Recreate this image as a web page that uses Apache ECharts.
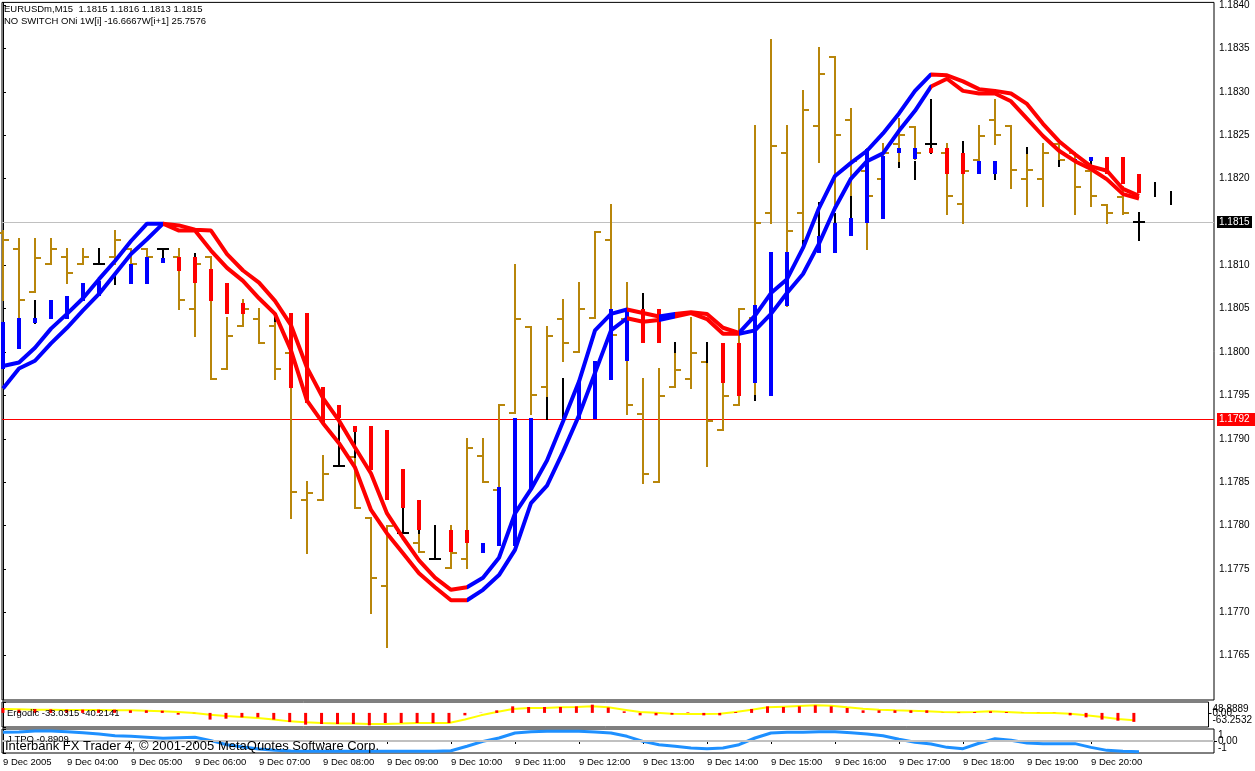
<!DOCTYPE html>
<html><head><meta charset="utf-8">
<script src="https://cdn.jsdelivr.net/npm/echarts@6/dist/echarts.min.js"></script>
<style>html,body{margin:0;padding:0;background:#fff}#c{width:1255px;height:771px}</style>
</head><body><div id="c"></div>
<script>
// ---- categories (15-minute bars, 9 Dec 2005) ----
const times = ["03:00","03:15","03:30","03:45","04:00","04:15","04:30","04:45","05:00","05:15","05:30","05:45",
"06:00","06:15","06:30","06:45","07:00","07:15","07:30","07:45","08:00","08:15","08:30","08:45",
"09:00","09:15","09:30","09:45","10:00","10:15","10:30","10:45","11:00","11:15","11:30","11:45",
"12:00","12:15","12:30","12:45","13:00","13:15","13:30","13:45","14:00","14:15","14:30","14:45",
"15:00","15:15","15:30","15:45","16:00","16:15","16:30","16:45","17:00","17:15","17:30","17:45",
"18:00","18:15","18:30","18:45","19:00","19:15","19:30","19:45","20:00","20:15","20:30","20:45",
"21:00","21:15"];
const timeTicks = [0,4,8,12,16,20,24,28,32,36,40,44,48,52,56,60,64,68];
const priceTicks = [1.1765,1.1770,1.1775,1.1780,1.1785,1.1790,1.1795,1.1800,1.1805,1.1810,1.1815,1.1820,1.1825,1.1830,1.1835,1.1840];
const bidPrice = 1.1815;
const levelPrice = 1.17923;

// ---- gold OHLC bars (null = no gold bar) ----
const goldOpen = [1.18137,1.18119,1.18069,1.18102,1.18110,1.18102,null,1.18110,1.18119,1.18119,
null,1.18110,1.18050,1.18110,1.17980,1.18030,1.18038,1.18030,1.17999,1.17830,
1.17830,null,1.17879,1.17809,1.17730,null,1.17780,null,1.17751,1.17761,
1.17880,1.17841,1.17930,1.18029,1.17960,1.18038,1.18000,1.18039,1.18129,1.18038,
1.17929,1.17850,1.17960,1.17969,1.17989,1.17910,1.17939,1.18039,1.18160,1.18229,
1.18160,1.18260,1.18340,1.18268,1.18209,1.18200,1.18240,1.18259,null,1.18229,
1.18171,1.18221,1.18268,1.18260,1.18200,1.18200,1.18240,1.18229,1.18209,1.18169,
1.18179,null,null,null];
const goldHigh = [1.18140,1.18130,1.18130,1.18130,1.18119,1.18119,null,1.18140,1.18119,1.18119,
null,1.18119,1.18110,1.18110,1.18039,1.18060,1.18050,1.18038,1.18002,1.17850,
1.17880,null,1.17879,1.17809,1.17800,null,1.17791,null,1.17800,1.17900,
1.17900,1.17939,1.18100,1.18029,1.18029,1.18060,1.18080,1.18138,1.18169,1.18080,
1.17969,1.17980,1.18000,1.18039,1.17989,1.17980,1.18050,1.18260,1.18360,1.18260,
1.18301,1.18350,1.18340,1.18280,1.18234,1.18240,1.18269,1.18259,null,1.18240,
1.18220,1.18260,1.18290,1.18260,1.18230,1.18240,1.18240,1.18230,1.18210,1.18169,
1.18190,null,null,null];
const goldLow = [1.18060,1.18036,1.18069,1.18102,1.18080,1.18102,null,1.18102,1.18102,1.18110,
null,1.18050,1.18019,1.17969,1.17980,1.18030,1.18010,1.17969,1.17809,1.17768,
1.17830,null,1.17820,1.17699,1.17660,null,1.17769,null,1.17751,1.17751,
1.17850,1.17841,1.17930,1.17929,1.17949,1.17990,1.18000,1.18039,1.18020,1.17929,
1.17849,1.17850,1.17960,1.17959,1.17869,1.17910,1.17939,1.17947,1.18149,1.18053,
1.18128,1.18219,1.18171,1.18179,1.18119,1.18189,1.18218,1.18223,null,1.18159,
1.18149,1.18209,1.18240,1.18189,1.18168,1.18168,1.18220,1.18159,1.18168,1.18149,
1.18159,null,null,null];
const goldClose = [1.18129,1.18060,1.18108,1.18119,1.18091,1.18110,null,1.18129,1.18102,1.18110,
null,1.18060,1.18102,1.17969,1.18019,1.18050,1.18010,1.17980,1.17839,1.17838,
1.17860,null,1.17820,1.17740,1.17800,null,1.17769,null,1.17768,1.17889,
1.17850,1.17939,1.18038,1.17950,1.18019,1.18010,1.18050,1.18138,1.18020,1.17939,
1.17860,1.17949,1.17979,1.17999,1.17920,1.17949,1.18050,1.18149,1.18238,1.18140,
1.18279,1.18320,1.18250,1.18220,1.18180,1.18229,1.18250,1.18230,null,1.18180,
1.18209,1.18249,1.18250,1.18210,1.18210,1.18229,1.18221,1.18190,1.18180,1.18160,
1.18160,null,null,null];

// ---- black bars / black segments ----
const blackIndex = [2,6,7,10,12,17,21,22,25,26,27,34,35,40,42,44,47,50,51,52,53,56,57,58,60,62,64,66,68,71,72,73];
const blackHigh = [1.18059,1.18119,1.18088,1.18119,1.18113,1.18044,1.17930,1.17908,1.17820,1.17795,1.17800,1.17947,1.17969,1.18067,1.18010,1.18010,1.17949,1.18128,1.18172,1.18159,1.18179,1.18218,1.18219,1.18290,1.18242,1.18205,1.18235,1.18220,1.18220,1.18160,1.18195,1.18184];
const blackLow = [1.18034,1.18102,1.18079,1.18108,1.18110,1.18036,1.17869,1.17879,1.17791,1.17791,1.17761,1.17923,1.17923,1.18050,1.18000,1.17989,1.17945,1.18120,1.18134,1.18149,1.18154,1.18213,1.18200,1.18229,1.18230,1.18199,1.18230,1.18215,1.18215,1.18129,1.18180,1.18171];
const blackOpen = [null,1.18102,null,1.18119,null,null,1.17869,null,1.17791,null,1.17761,null,null,null,null,null,null,null,null,null,null,null,null,1.18240,null,null,null,null,null,1.18150,null,null];
const blackClose = [null,1.18102,null,1.18119,null,null,1.17869,null,1.17791,null,1.17761,null,null,null,null,null,null,null,null,null,null,null,null,1.18240,null,null,null,null,null,1.18150,null,null];

// ---- thick indicator histogram (b = blue, r = red) ----
const histIndex = [0,1,2,3,4,5,6,8,9,10, 11,12,13,14,15, 18,19,20,21,22,23,24,25,26, 28,29, 30,31,32,33, 36,37,38,39, 40,41, 45,46, 47,48,49, 51,52,53,54,55,56,57, 58,59,60, 61,62, 67,68, 69,70,71];
const histTop = [1.18035,1.18039,1.18039,1.18060,1.18065,1.18080,1.18082,1.18102,1.18110,1.18108,
1.18110,1.18110,1.18096,1.18080,1.18056,
1.18045,1.18045,1.17960,1.17939,1.17915,1.17915,1.17910,1.17865,1.17830,
1.17795,1.17795, 1.17780,1.17844,1.17924,1.17924, 1.17965,1.17990,1.18050,1.18050,
1.18050,1.18050, 1.18010,1.18010, 1.18054,1.18115,1.18115,
1.18134,1.18149,1.18154,1.18234,1.18226,1.18235,1.18235,
1.18235,1.18235,1.18230, 1.18220,1.18220, 1.18223,1.18225, 1.18225,1.18225,1.18205];
const histBottom = [1.17981,1.18004,1.18034,1.18038,1.18038,1.18059,1.18065,1.18079,1.18079,1.18103,
1.18094,1.18080,1.18059,1.18044,1.18044,
1.17959,1.17941,1.17918,1.17924,1.17908,1.17864,1.17830,1.17820,1.17795,
1.17769,1.17780, 1.17768,1.17777,1.17777,1.17841, 1.17923,1.17923,1.17968,1.17990,
1.18010,1.18010, 1.17964,1.17949, 1.17964,1.17949,1.18053,
1.18114,1.18114,1.18134,1.18149,1.18153,1.18229,1.18223,
1.18229,1.18205,1.18205, 1.18205,1.18205, 1.18220,1.18220, 1.18205,1.18194,1.18183];
const histColor = ['b','b','b','b','b','b','b','b','b','b', 'r','r','r','r','r', 'r','r','r','r','r','r','r','r','r',
'r','r', 'b','b','b','b', 'b','b','b','b', 'r','r', 'r','r', 'b','b','b', 'b','b','b','b','b','b','b',
'r','r','r', 'b','b', 'b','b', 'r','r','r'];

// ---- channel lines ----
const bandA = [1.17984,1.17988,1.18005,1.18027,1.18044,1.18062,1.18084,1.18105,1.18128,1.18148,
1.18148,1.18146,1.18141,1.18140,1.18113,1.18094,1.18080,1.18059,1.18031,1.17982,
1.17947,1.17921,1.17890,1.17860,1.17814,1.17786,1.17760,1.17740,1.17726,1.17729,
1.17740,1.17763,1.17814,1.17842,1.17875,1.17920,1.17966,1.18025,1.18044,1.18049,
1.18045,1.18041,1.18044,1.18046,1.18044,1.18028,1.18022,1.18042,1.18068,1.18084,
1.18120,1.18166,1.18203,1.18218,1.18232,1.18252,1.18275,1.18301,1.18320,1.18319,
1.18312,1.18303,1.18301,1.18298,1.18286,1.18263,1.18243,1.18228,1.18214,1.18209,
1.18188,1.18180];
const bandB = [1.17958,1.17981,1.17990,1.18010,1.18028,1.18048,1.18067,1.18090,1.18113,1.18130,
1.18148,1.18140,1.18140,1.18117,1.18097,1.18082,1.18062,1.18044,1.18002,1.17944,
1.17918,1.17895,1.17867,1.17818,1.17791,1.17768,1.17745,1.17729,1.17714,1.17714,
1.17726,1.17743,1.17772,1.17826,1.17846,1.17885,1.17927,1.17976,1.18025,1.18039,
1.18035,1.18037,1.18041,1.18045,1.18038,1.18021,1.18021,1.18025,1.18044,1.18068,
1.18090,1.18125,1.18166,1.18200,1.18220,1.18229,1.18255,1.18278,1.18306,1.18315,
1.18301,1.18298,1.18298,1.18289,1.18269,1.18249,1.18232,1.18220,1.18211,1.18199,
1.18182,1.18177];
// trend of each segment k -> k+1 (u = blue, d = red)
const bandTrend = ['u','u','u','u','u','u','u','u','u','u',
'd','d','d','d','d','d','d','d','d','d','d','d','d','d','d','d','d','d','d',
'u','u','u','u','u','u','u','u','u','u',
'd','d','u','d','d','d','d',
'u','u','u','u','u','u','u','u','u','u','u','u',
'd','d','d','d','d','d','d','d','d','d','d','d','d'];

// ---- Ergodic sub-window ----
const ergMax = 48.8889, ergMin = -63.2532;
const ergSignal = [17.5,16,14.5,14.5,13,13,13,11.5,11.5,10,
7,4,-0.5,-8,-14,-18,-23,-30,-38,-42,
-45,-47,-48,-50,-50,-48,-45,-45,-45,-30,
-11,4,17.5,22,22,25,26.4,29.4,25,14.5,
4,1,-3.5,-5,-5,-3.5,4,14.5,25,28,
31,34,32.4,25,19,14.5,11.5,10,7,4,
2.5,4,7,4,1,-0.5,-0.5,-3.5,-11,-18,
-27,-33.0315];
const ergHist = [22,14.5,17.5,16,14.5,14.5,14.5,14.5,11.5,11.5,
10,-8,-1,-30,-26,-20,-20,-30,-41,-52.8,
-49.8,-49.8,-49.8,-55.8,-45.3,-45.3,-45.3,-45.3,-45.3,-11,
1,11.5,29.4,26.4,26.4,26.4,29.4,36.9,24,7,
-11,-11,-8,2.5,-11,-11,4,17.5,29.4,26.4,
29.4,34,29.4,22,11.5,11.5,11.5,11.5,11.5,0.8,
2.5,4,7,4,0.8,0.8,0.8,-11,-20,-30,
-35,-40.2141];

// ---- J_TPO sub-window ----
const tpoMax = 1, tpoMin = -1;
const tpo = [0.72,0.75,0.83,0.83,0.78,0.69,0.58,0.44,0.39,0.31,
0.22,0.28,0.31,0.03,-0.31,-0.5,-0.67,-0.78,-0.83,-0.86,
-0.86,-0.86,-0.86,-0.86,-0.86,-0.86,-0.86,-0.86,-0.81,-0.44,
-0.03,0.25,0.67,0.78,0.81,0.81,0.81,0.75,0.67,0.39,
-0.03,-0.31,-0.44,-0.58,-0.64,-0.58,-0.31,0.25,0.67,0.72,
0.72,0.78,0.78,0.69,0.58,0.44,0.14,-0.11,-0.25,-0.53,
-0.64,-0.19,0.19,0.06,-0.17,-0.22,-0.22,-0.22,-0.53,-0.78,
-0.86,-0.8909];

// ================= build =================
const GOLD = '#B8860B', BLUE = '#0000FF', RED = '#FF0000';
const FONT = 'Liberation Sans';
const chart = echarts.init(document.getElementById('c'));

const goldData = [];
goldHigh.forEach((h, i) => { if (h != null) goldData.push([i, h, goldLow[i], goldOpen[i], goldClose[i]]); });
const blackData = blackIndex.map((i, k) => [i, blackHigh[k], blackLow[k], blackOpen[k] == null ? NaN : blackOpen[k], blackClose[k] == null ? NaN : blackClose[k]]);
const histData = histIndex.map((i, k) => [i, histTop[k], histBottom[k], histColor[k] === 'b' ? 0 : 1]);

function ohlcRender(color) {
  return function (params, api) {
    const i = api.value(0);
    const pt = api.coord([i, api.value(1)]);
    const pb = api.coord([i, api.value(2)]);
    const x = Math.round(pt[0]);
    const yt = Math.round(pt[1]), yb = Math.round(pb[1]);
    const ch = [{type: 'rect', shape: {x: x - 1, y: yt - 1, width: 2, height: Math.max(2, yb - yt + 2)}, style: {fill: color}}];
    const o = api.value(3), c = api.value(4);
    if (!isNaN(o)) {
      const yo = Math.round(api.coord([i, o])[1]);
      ch.push({type: 'rect', shape: {x: x - 6, y: yo - 1, width: 6, height: 2}, style: {fill: color}});
    }
    if (!isNaN(c)) {
      const yc = Math.round(api.coord([i, c])[1]);
      ch.push({type: 'rect', shape: {x: x, y: yc - 1, width: 6, height: 2}, style: {fill: color}});
    }
    return {type: 'group', children: ch};
  };
}

// visual pieces for channel colour
const pieces = [];
let s = 0;
for (let k = 1; k <= bandTrend.length; k++) {
  if (k === bandTrend.length || bandTrend[k] !== bandTrend[s]) {
    pieces.push({gte: s === 0 ? -100 : s, lt: k === bandTrend.length ? 1000 : k, color: bandTrend[s] === 'u' ? BLUE : RED});
    s = k;
  }
}

const xAxes = [0, 1, 2].map(g => ({
  type: 'value', gridIndex: g, min: -0.0625, max: 75.6875,
  axisLine: {show: false}, splitLine: {show: false},
  axisTick: {show: g === 2, customValues: timeTicks, length: 3, lineStyle: {color: '#000'}},
  axisLabel: {show: g === 2, customValues: timeTicks, align: 'left', margin: 4, fontSize: 9.5, fontFamily: FONT, color: '#000',
    formatter: v => { const i = Math.round(v); return i === 0 ? '9 Dec 2005' : '9 Dec ' + times[i]; }}
}));

const near = (a, b) => Math.abs(a - b) < 1e-6;
const lbl = {fontSize: 10, fontFamily: FONT, color: '#000'};

function subAxis(grid, mn, mx, values, formatter, rich, showLine) {
  return {type: 'value', gridIndex: grid, position: 'right', min: mn, max: mx,
    axisLine: {show: showLine, lineStyle: {color: '#000'}}, splitLine: {show: false},
    axisTick: {show: true, customValues: values, length: 3, lineStyle: {color: '#000'}},
    axisLabel: Object.assign({customValues: values, showMinLabel: true, showMaxLabel: true, hideOverlap: false, margin: 4,
      formatter: formatter, rich: rich}, lbl)};
}

// horizontal price level: 1px rect across the plot + price box on the axis
function levelSeries(name, price, lineColor, boxColor, boxW, boxH) {
  return {type: 'custom', name: name, xAxisIndex: 0, yAxisIndex: 0, data: [[0, price]], encode: {x: 0, y: 1}, z: 1, silent: true,
    renderItem: (params, api) => {
      const y = Math.round(api.coord([0, api.value(1)])[1]);
      const cs = params.coordSys;
      const right = cs.x + cs.width;
      return {type: 'group', children: [
        {type: 'rect', shape: {x: cs.x, y: y, width: cs.width, height: 1}, style: {fill: lineColor}},
        {type: 'rect', shape: {x: right + 3, y: y - Math.floor(boxH / 2), width: boxW, height: boxH}, style: {fill: boxColor}},
        {type: 'text', style: {text: price.toFixed(4), x: right + 5, y: y + 0.5, verticalAlign: 'middle', fill: '#fff', fontSize: 10, fontFamily: FONT}}
      ]};
    }};
}

const option = {
  animation: false,
  backgroundColor: '#ffffff',
  textStyle: {fontFamily: FONT},
  grid: [
    {left: 2, top: 1, width: 1212, height: 699, show: true, borderColor: '#000', borderWidth: 1},
    {left: 2, top: 702, width: 1212, height: 25, show: true, borderColor: '#000', borderWidth: 1},
    {left: 2, top: 729, width: 1212, height: 24, show: true, borderColor: '#000', borderWidth: 1}
  ],
  xAxis: xAxes,
  yAxis: [
    {type: 'value', gridIndex: 0, position: 'right', min: 1.17599, max: 1.18403, scale: true,
      axisLine: {show: true, lineStyle: {color: '#000'}}, splitLine: {show: false},
      axisTick: {show: true, customValues: priceTicks, length: 3, lineStyle: {color: '#000'}},
      axisLabel: Object.assign({customValues: priceTicks, formatter: v => v.toFixed(4), margin: 5}, lbl)},
    subAxis(1, ergMin, ergMax, [ergMin, ergMax],
      v => near(v, ergMax) ? '{t|' + ergMax.toFixed(4) + '}' : '{b|' + ergMin.toFixed(4) + '}',
      {t: Object.assign({padding: [14, 0, 0, 0]}, lbl), b: Object.assign({padding: [0, 0, 14, 0]}, lbl)}, true),
    subAxis(2, tpoMin, tpoMax, [tpoMin, tpoMax],
      v => v > 0 ? '{t|1}' : '{b|-1}',
      {t: Object.assign({padding: [12, 0, 0, 0]}, lbl), b: Object.assign({padding: [0, 0, 10, 0]}, lbl)}, true),
    subAxis(1, ergMin, ergMax, [0], v => '0.00', {}, false),
    subAxis(2, tpoMin, tpoMax, [0], v => '0.00', {}, false)
  ],
  visualMap: [{type: 'piecewise', show: false, dimension: 0, seriesIndex: [3, 4], pieces: pieces}],
  series: [
    {type: 'custom', name: 'bars', xAxisIndex: 0, yAxisIndex: 0, data: goldData, encode: {x: 0, y: [1, 2]},
      renderItem: ohlcRender(GOLD), z: 2, silent: true},
    {type: 'custom', name: 'black', xAxisIndex: 0, yAxisIndex: 0, data: blackData, encode: {x: 0, y: [1, 2]},
      renderItem: ohlcRender('#000000'), z: 3, silent: true},
    {type: 'custom', name: 'hist', xAxisIndex: 0, yAxisIndex: 0, data: histData, encode: {x: 0, y: [1, 2]}, z: 4, silent: true,
      renderItem: (params, api) => {
        const i = api.value(0);
        const pt = api.coord([i, api.value(1)]), pb = api.coord([i, api.value(2)]);
        const x = Math.round(pt[0]);
        const yt = Math.round(pt[1]), yb = Math.round(pb[1]);
        return {type: 'rect', shape: {x: x - 2, y: yt, width: 4, height: Math.max(2, yb - yt)}, style: {fill: api.value(3) === 0 ? BLUE : RED}};
      }},
    {type: 'line', name: 'bandA', xAxisIndex: 0, yAxisIndex: 0, data: bandA.map((v, i) => [i, v]), showSymbol: false, symbol: 'none',
      lineStyle: {width: 4}, z: 5, silent: true},
    {type: 'line', name: 'bandB', xAxisIndex: 0, yAxisIndex: 0, data: bandB.map((v, i) => [i, v]), showSymbol: false, symbol: 'none',
      lineStyle: {width: 4}, z: 5, silent: true},
    {type: 'line', name: 'ergSignal', xAxisIndex: 1, yAxisIndex: 1, data: ergSignal.map((v, i) => [i, v]), showSymbol: false, symbol: 'none',
      lineStyle: {width: 2, color: '#FFFF00'}, itemStyle: {color: '#FFFF00'}, z: 2, silent: true},
    {type: 'bar', name: 'ergHist', xAxisIndex: 1, yAxisIndex: 1, data: ergHist.map((v, i) => [i, v]), barWidth: 3,
      itemStyle: {color: '#FF0000'}, z: 3, silent: true},
    {type: 'line', name: 'tpo', xAxisIndex: 2, yAxisIndex: 2, data: tpo.map((v, i) => [i, v]), showSymbol: false, symbol: 'none',
      lineStyle: {width: 3, color: '#1E90FF'}, itemStyle: {color: '#1E90FF'}, z: 3, silent: true,
      markLine: {symbol: ['none', 'none'], silent: true, animation: false, label: {show: false}, precision: 6,
        lineStyle: {color: '#C0C0C0', width: 2, type: 'solid'},
        data: [{yAxis: 0}]}},
    levelSeries('bid', bidPrice, '#C0C0C0', '#000000', 35, 12),
    levelSeries('level', levelPrice, '#FF0000', '#FF0000', 38, 13)
  ],
  graphic: [
    {type: 'text', left: 4, top: 4, z: 100, style: {text: 'EURUSDm,M15  1.1815 1.1816 1.1813 1.1815', fontSize: 9.5, fontFamily: FONT, fill: '#000'}},
    {type: 'text', left: 4, top: 16, z: 100, style: {text: 'NO SWITCH ONi 1W[i] -16.6667W[i+1] 25.7576', fontSize: 9.5, fontFamily: FONT, fill: '#000'}},
    {type: 'text', left: 7, top: 708, z: 100, style: {text: 'Ergodic -33.0315 -40.2141', fontSize: 9.5, fontFamily: FONT, fill: '#000'}},
    {type: 'text', left: 7, top: 734, z: 100, style: {text: 'J TPO -0.8909', fontSize: 9.5, fontFamily: FONT, fill: '#000'}},
    {type: 'text', left: 5, top: 740, z: 100, style: {text: 'Interbank FX Trader 4, \u00A9 2001-2005 MetaQuotes Software Corp.', fontSize: 13, fontFamily: FONT, fill: '#000'}}
  ]
};
chart.setOption(option);
</script>
</body></html>
